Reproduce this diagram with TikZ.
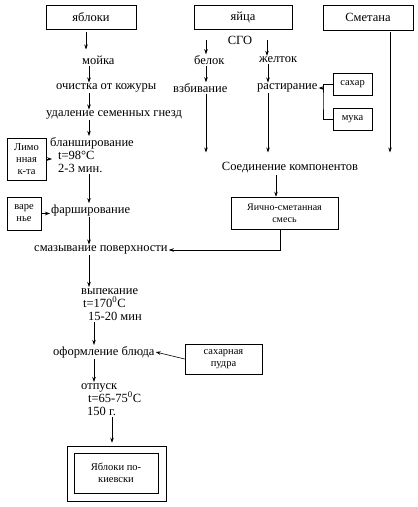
\documentclass[tikz,border=0pt]{standalone}
\usepackage{fontspec}
\setmainfont{Liberation Serif}
\usepackage{tikz}
\usetikzlibrary{arrows.meta}

\begin{document}
\begin{tikzpicture}[x=1pt, y=-1pt,
  box/.style={draw, line width=0.6pt, inner sep=1pt, align=center, font=\fontsize{10}{12}\selectfont},
  smallbox/.style={box, font=\fontsize{10.5}{12}\selectfont},
  txt/.style={inner sep=1pt, anchor=west, align=left, font=\fontsize{12.5}{13.2}\selectfont},
  line/.style={line width=0.6pt},
  arr/.style={line, -{Stealth[length=5pt, width=3.5pt]}}
]
  \useasboundingbox (0,0) rectangle (418,507);

  % top row
  \node[box, minimum width=90pt, minimum height=24pt] (apples) at (91,17) {\fontsize{12.5}{12}\selectfont яблоки};
  \node[box, minimum width=98pt, minimum height=24pt] (eggs) at (243,17) {\fontsize{12.5}{12}\selectfont яйца};
  \node[box, minimum width=90pt, minimum height=25pt] (smetana) at (368,17.5) {\fontsize{12.5}{12}\selectfont Сметана};

  % apples column
  \coordinate (colA) at (89,0);
  \node[txt] (mojka) at (81,60) {мойка};
  \node[txt] (ochistka) at (55,88) {очистка от кожуры};
  \node[txt] (udalenie) at (45,115) {удаление семенных гнезд};
  \node[txt, anchor=north west] (blansh) at (49,136) {бланширование\\\hspace*{8pt}t=98°C\\\hspace*{8pt}2-3 мин.};
  \node[smallbox, minimum width=39pt, minimum height=42pt] (limon) at (26.5,159) {Лимо\\нная\\к-та};
  \node[txt] (farsh) at (50,210) {фарширование};
  \node[smallbox, minimum width=34pt, minimum height=33pt] (varenye) at (24,213.5) {варе\\нье};
  \node[txt] (smaz) at (33,250) {смазывание поверхности};
  \node[txt, anchor=north west] (vypek) at (80,287) {выпекание\\\hspace*{2pt}t=170\textsuperscript{0}C\\\hspace*{7pt}15-20 мин};
  \node[txt] (oform) at (52,352) {оформление блюда};
  \node[smallbox, minimum width=77pt, minimum height=30pt] (sugarpowder) at (223.5,359) {сахарная\\пудра};
  \node[txt, anchor=north west] (otpusk) at (80,382) {отпуск\\\hspace*{7pt}t=65-75\textsuperscript{0}C\\\hspace*{6pt}150 г.};
  \node[draw, line, minimum width=99pt, minimum height=55pt] (outer) at (116.5,473.5) {};
  \node[smallbox, minimum width=84pt, minimum height=40pt] (result) at (116,473) {Яблоки по-\\киевски};

  % eggs and sour cream
  \node[txt, anchor=center] (sgo) at (240,40) {СГО};
  \node[txt] (belok) at (193,60) {белок};
  \node[txt] (vzbiv) at (172,88) {взбивание};
  \node[txt] (zheltok) at (258,60) {желток};
  \node[txt] (rastir) at (256,88) {растирание};
  \node[smallbox, minimum width=39pt, minimum height=22pt] (sahar) at (352.5,84) {сахар};
  \node[smallbox, minimum width=39pt, minimum height=22pt] (muka) at (352.5,119) {мука};
  \coordinate (br) at (323,100);
  \node[txt, anchor=center] (soedin) at (290,168) {Соединение компонентов};
  \node[box, minimum width=107pt, minimum height=32pt] (smes) at (284.5,213) {Яично-сметанная\\смесь};

  % apples flow
  \draw[arr, shorten <=3pt, shorten >=5pt] (apples.south -| 86,0) -- (mojka.north -| 86,0);
  \draw[arr] (mojka.south -| colA) -- (ochistka.north -| colA);
  \draw[arr] (ochistka.south -| colA) -- (udalenie.north -| colA);
  \draw[arr] (udalenie.south -| colA) -- (blansh.north -| colA);
  \draw[arr] (limon.east) -- ([xshift=3pt]limon.east -| blansh.west);
  \draw[arr] (blansh.south -| colA) -- (farsh.north -| colA);
  \draw[arr] (varenye.east) -- (varenye.east -| farsh.west);
  \draw[arr] (farsh.south -| colA) -- (smaz.north -| colA);
  \draw[arr] (smaz.south -| colA) -- (vypek.north -| colA);
  \draw[arr] (vypek.south -| 94,0) -- (oform.north -| 94,0);
  \draw[arr] (sugarpowder.west) -- (oform.east);
  \draw[arr] (oform.south -| 94,0) -- (otpusk.north -| 94,0);
  \draw[arr, shorten >=3pt] (otpusk.south -| 112,0) -- (outer.north -| 112,0);

  % eggs flow
  \draw[arr] (sgo -| 206,0) -- (belok.north -| 206,0);
  \draw[arr] (belok.south -| 206,0) -- (vzbiv.north -| 206,0);
  \draw[arr, shorten >=9pt] (vzbiv.south -| 206,0) -- (soedin.north -| 206,0);
  \draw[arr] (sgo -| 267,0) -- (zheltok.north -| 267,0);
  \draw[arr] (zheltok.south -| 268,0) -- (rastir.north -| 268,0);
  \draw[arr, shorten >=9pt] (rastir.south -| 268,0) -- (soedin.north -| 268,0);
  \draw[line] (sahar.west) -| (br) |- (muka.west);
  \draw[arr] (br |- rastir.east) -- (rastir.east);
  \draw[arr, shorten <=2pt, shorten >=9pt] (smetana.south -| 390,0) -- (soedin.north -| 390,0);
  \draw[arr] (soedin.south -| 276,0) -- (smes.north -| 276,0);
  \draw[arr] ([xshift=-4pt]smes.south) |- (smaz.east);
\end{tikzpicture}
\end{document}
